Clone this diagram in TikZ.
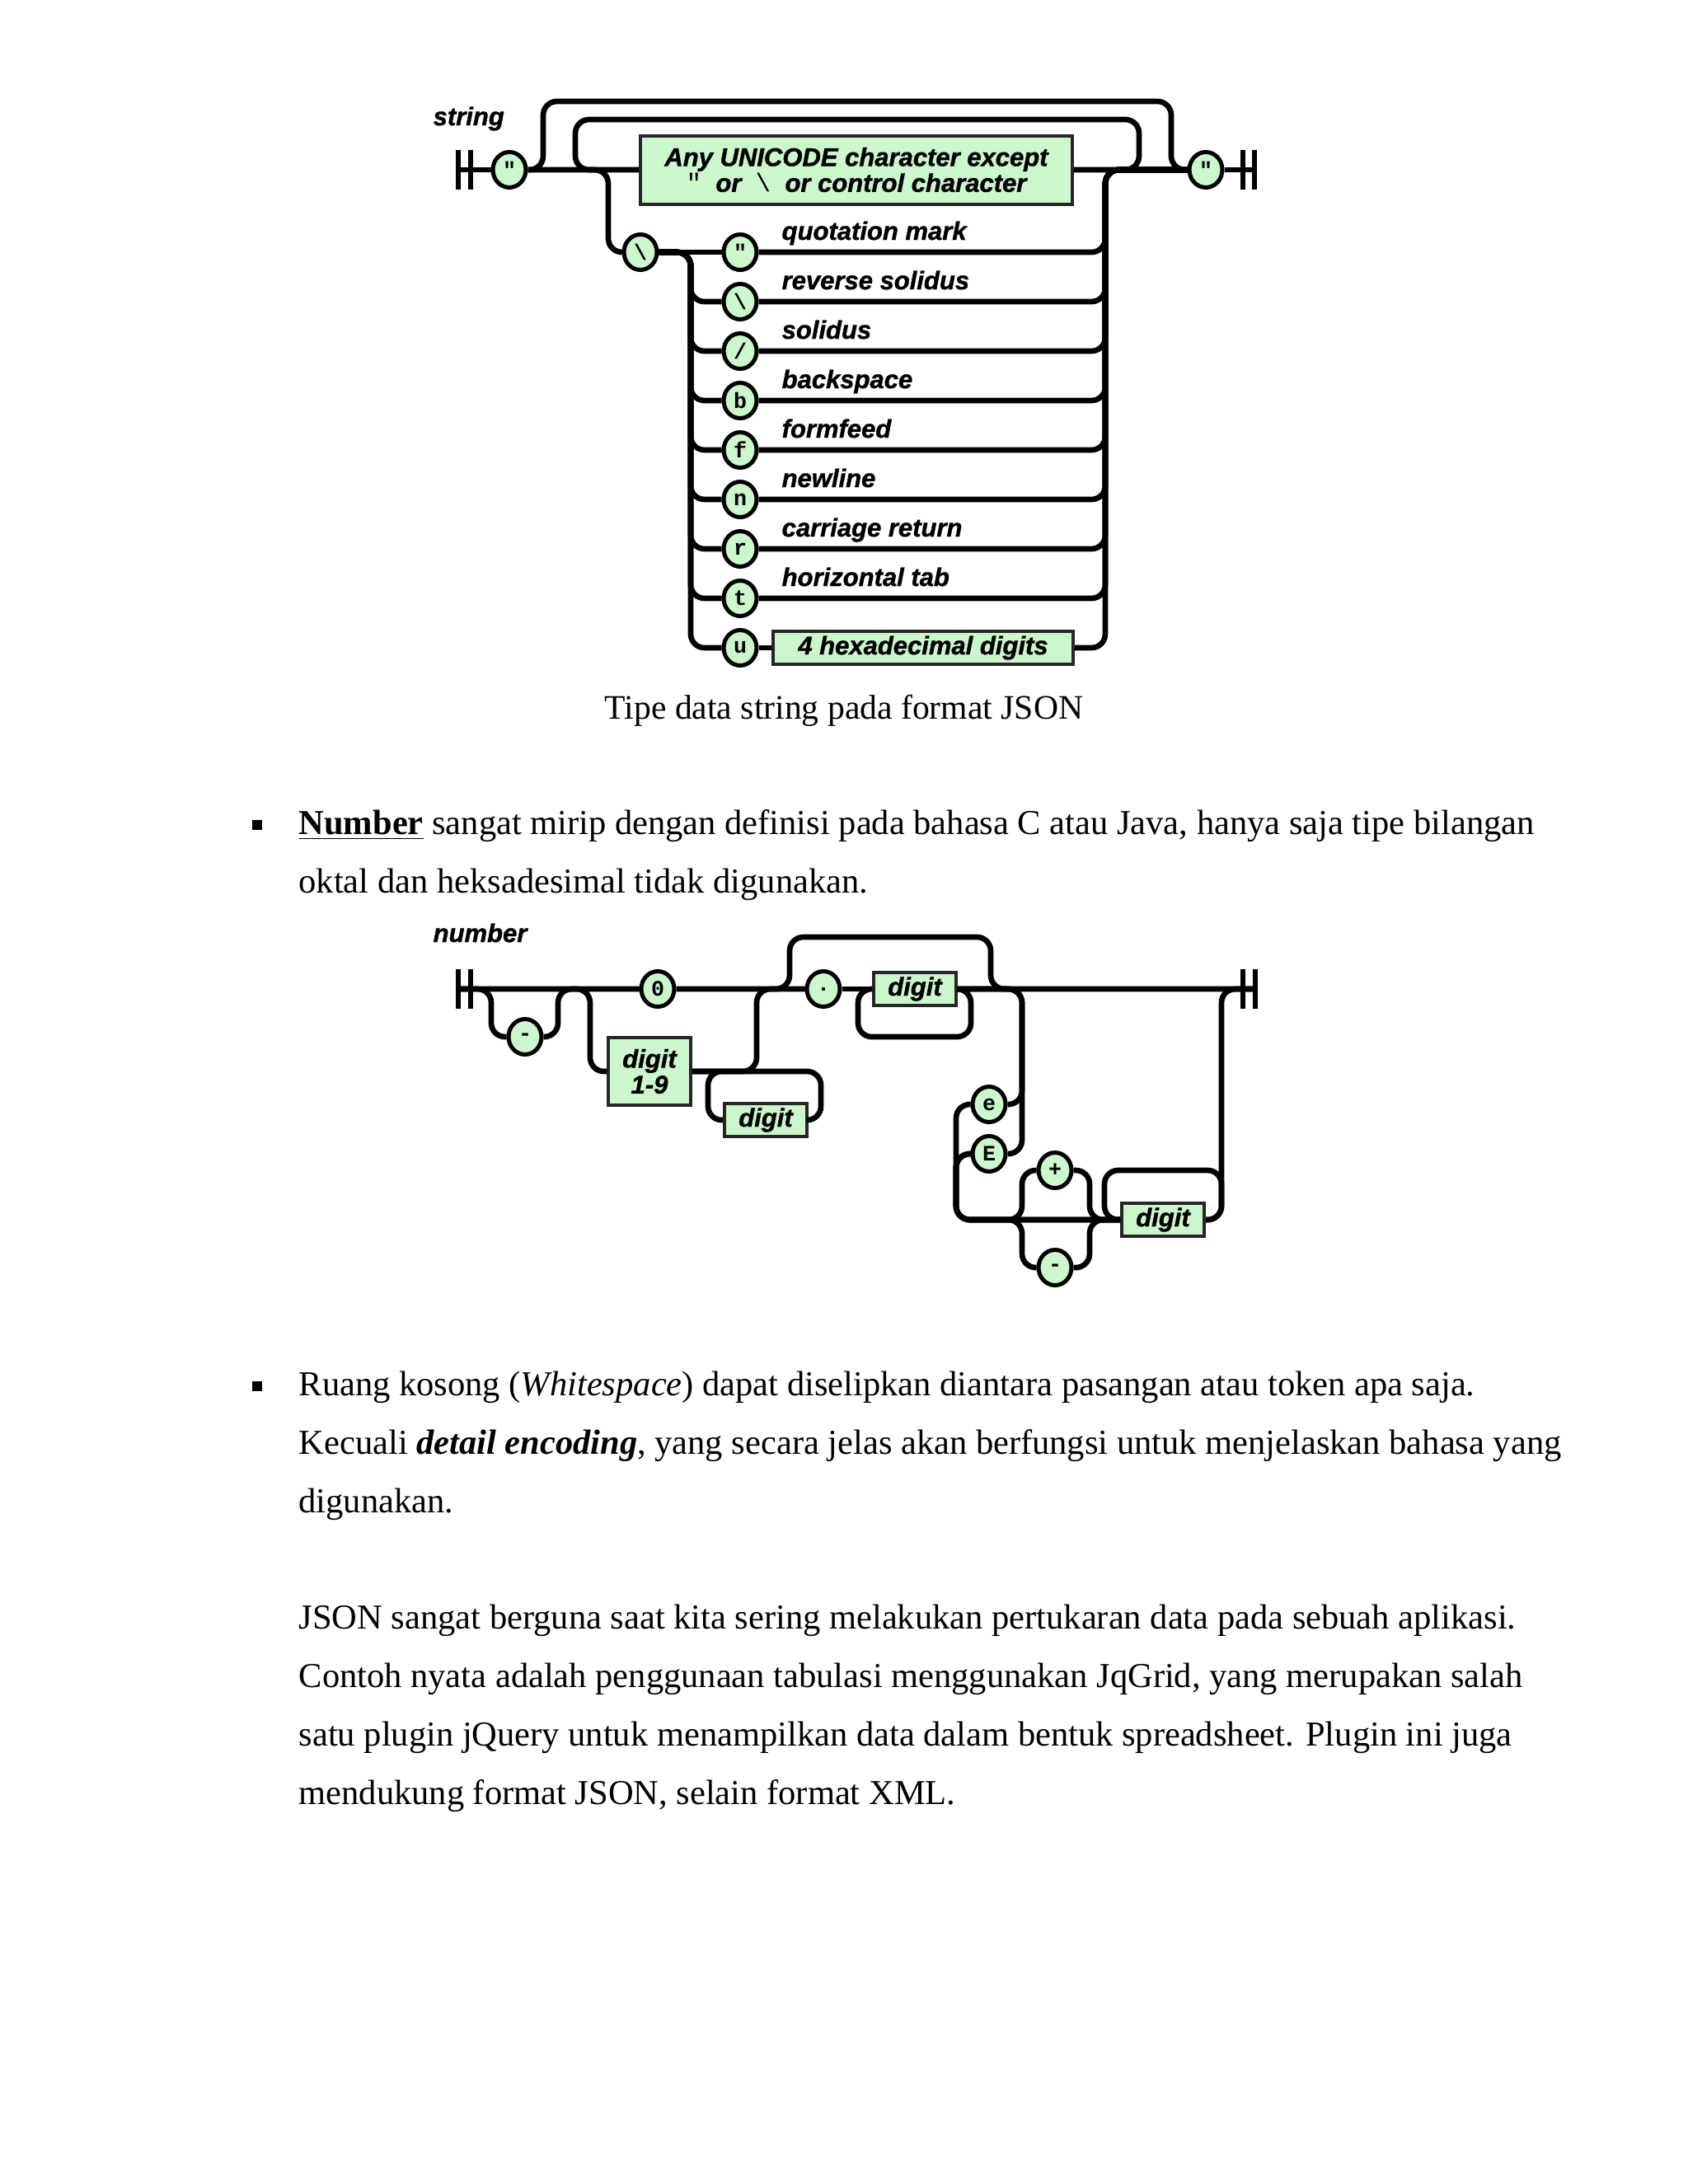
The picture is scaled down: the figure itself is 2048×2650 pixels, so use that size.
\documentclass[tikz,border=0pt]{standalone}
\usepackage{fontspec}
\setmainfont{Liberation Serif}
\newfontfamily\railsans{Liberation Sans}[BoldItalicFeatures={FakeBold=1.2}]
\newfontfamily\railmono{Liberation Mono}
\usepackage{tikz}
\usetikzlibrary{shapes.geometric}
\definecolor{railgreen}{HTML}{CCF7CC}

\begin{document}
\begin{tikzpicture}[x=0.3pt, y=-0.3pt,
  rail/.style={line width=2pt, rounded corners=5pt},
  stopbar/.style={line width=2pt},
  bubble/.style={ellipse, draw, line width=1.5pt, fill=railgreen, minimum width=12pt, minimum height=12.9pt, inner sep=0pt, font=\railmono\bfseries\fontsize{8}{8}\selectfont},
  termbox/.style={rectangle, draw=black!85, line width=1.2pt, fill=railgreen, inner sep=0pt, align=center, font=\railsans\bfseries\itshape\fontsize{9.3}{9.4}\selectfont},
  tag/.style={anchor=base west, inner sep=0pt, font=\railsans\bfseries\itshape\fontsize{9.3}{11}\selectfont},
  para/.style={anchor=base west, inner sep=0pt, font=\fontsize{12.75}{15}\selectfont},
  bullet/.style={fill, inner sep=0pt, minimum size=3.6pt}]

\fill[white] (0,0) rectangle (2048,2650);
\useasboundingbox (0,0) rectangle (2048,2650);

% string
\node[tag] (strname) at (525,152) {string};
\coordinate (sL) at (556,206);
\coordinate (sR) at (1522,206);
\coordinate (skipL) at (659,123);
\coordinate (skipR) at (1421,206);
\coordinate (loopL) at (698,206);
\coordinate (loopR) at (1382,145);
\coordinate (escIn) at (738,306);
\coordinate (escL) at (838,306);
\coordinate (escR) at (1341,206);

\node[bubble] (sq1) at (618,206) {"};
\node[termbox, minimum width=157.2pt, minimum height=24.9pt] (chars) at (1039,206)
  {Any UNICODE character except\\{\railmono\mdseries\upshape "}\ \ or\ \ {\railmono\mdseries\upshape\textbackslash}\ \ or control character};
\node[bubble] (sq2) at (1463,206) {"};
\node[bubble] (bs) at (777,306) {\textbackslash};

\node[bubble] (e1) at (898,306) {"};
\node[bubble] (e2) at (898,366) {\textbackslash};
\node[bubble] (e3) at (898,426) {/};
\node[bubble] (e4) at (898,486) {b};
\node[bubble] (e5) at (898,546) {f};
\node[bubble] (e6) at (898,606) {n};
\node[bubble] (e7) at (898,666) {r};
\node[bubble] (e8) at (898,726) {t};
\node[bubble] (e9) at (898,786) {u};
\node[termbox, minimum width=109.2pt, minimum height=12pt] (hex) at (1120,786) {4 hexadecimal digits};

\foreach \y/\txt in {306/quotation mark, 366/reverse solidus, 426/solidus, 486/backspace,
  546/formfeed, 606/newline, 666/carriage return, 726/horizontal tab}
  \node[tag] (esc\y) at (948,\y-15) {\txt};

\draw[stopbar] (sL) ++(0,-24) -- ++(0,48) (sL) ++(15,-24) -- ++(0,48);
\draw[stopbar] (sR) ++(-14,-24) -- ++(0,48) (sR) ++(0,-24) -- ++(0,48);
\draw[rail] (sL) -- (sq1) -- (chars) -- (sq2) -- (sR);
\draw[rail] (sq1) -| (skipL) -| (skipR) -- (sq2);
\draw[rail] (chars) -| (loopR) -| (loopL) -- (chars);
\draw[rail] (sq1) -| (escIn) -- (bs);
\draw[rail] (bs) -- (e1);
\foreach \k in {2,...,9}
  \draw[rail] (bs) -| (escL |- e\k) -- (e\k);
\foreach \k in {1,...,8}
  \draw[rail] (e\k) -| (escR) -- (sq2);
\draw[rail] (e9) -- (hex);
\draw[rail] (hex) -| (escR) -- (sq2);

\node[para, anchor=base, font=\fontsize{12.5}{15}\selectfont] (caption) at (1024,872) {Tipe data string pada format JSON};

% number
\node[bullet] (dot1) at (312,1001) {};
\node[para] (p1) at (362,1012) {\underline{\textbf{Number}} sangat mirip dengan definisi pada bahasa C atau Java, hanya saja tipe bilangan};
\node[para] (p2) at (362,1083) {oktal dan heksadesimal tidak digunakan.};

\node[tag] (numname) at (525,1143) {number};
\coordinate (nL) at (556,1200);
\coordinate (nR) at (1523,1200);
\coordinate (negL) at (596,1258);
\coordinate (negR) at (677,1258);
\coordinate (intL) at (716,1300);
\coordinate (intR) at (918,1200);
\coordinate (repL) at (859,1300);
\coordinate (repR) at (996,1359);
\coordinate (fracL) at (958,1137);
\coordinate (fracR) at (1202,1200);
\coordinate (fdL) at (1041,1200);
\coordinate (fdR) at (1178,1258);
\coordinate (expR) at (1240,1200);
\coordinate (expL) at (1160,1480);
\coordinate (sgnL) at (1240,1480);
\coordinate (sgnR) at (1322,1480);
\coordinate (edL) at (1340,1480);
\coordinate (edR) at (1482,1420);
\coordinate (outR) at (1482,1200);

\node[bubble] (neg) at (637,1258) {-};
\node[bubble] (zero) at (798,1200) {0};
\node[termbox, minimum width=30pt, minimum height=24.6pt] (d19) at (788,1300) {digit\\1-9};
\node[termbox, minimum width=30pt, minimum height=12pt] (d0) at (929,1359) {digit};
\node[bubble] (dot) at (999,1200) {.};
\node[termbox, minimum width=30pt, minimum height=12pt] (fd) at (1110,1200) {digit};
\node[bubble] (ee) at (1200,1340) {e};
\node[bubble] (EE) at (1200,1400) {E};
\node[bubble] (plus) at (1280,1420) {+};
\node[bubble] (minus) at (1280,1538) {-};
\node[termbox, minimum width=30pt, minimum height=12pt] (ed) at (1411,1480) {digit};

\draw[stopbar] (nL) ++(0,-24) -- ++(0,48) (nL) ++(15,-24) -- ++(0,48);
\draw[stopbar] (nR) ++(-15,-24) -- ++(0,48) (nR) ++(0,-24) -- ++(0,48);
\draw[rail] (nL) -- (zero) -- (dot) -- (fd) -- (nR);
\draw[rail] (nL) -| (negL) -- (neg) -- (negR) |- (zero);
\draw[rail] (nL) -| (intL) -- (d19);
\draw[rail] (d19) -| (intR) -- (dot);
\draw[rail] (d19) -| (repR) -- (d0) -| (repL) -- ++(22,0);
\draw[rail] (zero) -| (fracL) -| (fracR) -- (nR);
\draw[rail] (fd) -| (fdR) -| (fdL) -- (fd);
\draw[rail] (fd) -| (expR |- ee) -- (ee);
\draw[rail] (fd) -| (expR |- EE) -- (EE);
\draw[rail] (ee) -| (expL) -- (ed);
\draw[rail] (EE) -| (expL) -- (ed);
\draw[rail] (EE) -| (expL) -| (sgnL |- plus) -- (plus);
\draw[rail] (EE) -| (expL) -| (sgnL |- minus) -- (minus);
\draw[rail] (plus) -| (sgnR) -- (ed);
\draw[rail] (minus) -| (sgnR) -- (ed);
\draw[rail] (ed) -| (edR) -| (edL) -- (ed);
\draw[rail] (ed) -| (outR) -- (nR);

% whitespace
\node[bullet] (dot2) at (312,1682) {};
\node[para] (p3) at (362,1693) {Ruang kosong (\textit{Whitespace}) dapat diselipkan diantara pasangan atau token apa saja.};
\node[para] (p4) at (362,1764) {Kecuali \textbf{\textit{detail encoding}}, yang secara jelas akan berfungsi untuk menjelaskan bahasa yang};
\node[para] (p5) at (362,1835) {digunakan.};
\node[para] (p6) at (362,1976) {JSON sangat berguna saat kita sering melakukan pertukaran data pada sebuah aplikasi.};
\node[para] (p7) at (362,2047) {Contoh nyata adalah penggunaan tabulasi menggunakan JqGrid, yang merupakan salah};
\node[para] (p8) at (362,2118) {satu plugin jQuery untuk menampilkan data dalam bentuk spreadsheet. Plugin ini juga};
\node[para] (p9) at (362,2189) {mendukung format JSON, selain format XML.};
\end{tikzpicture}
\end{document}
